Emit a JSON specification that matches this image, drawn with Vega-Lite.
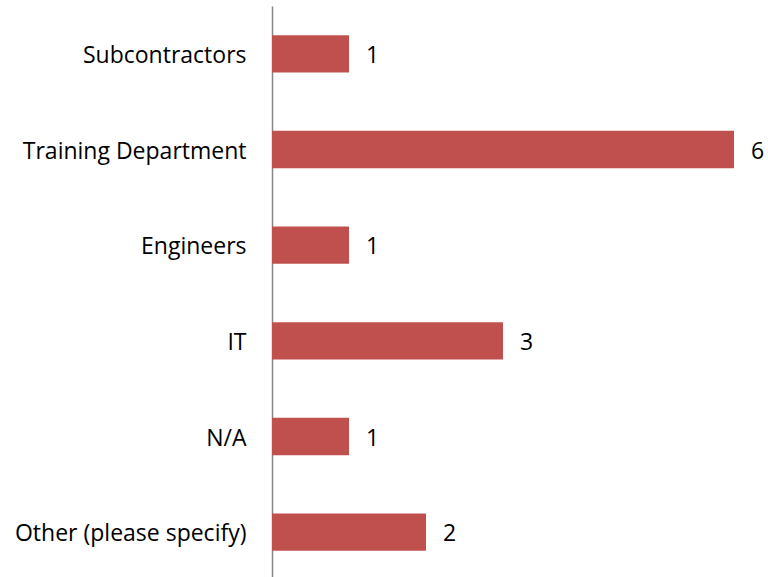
{
  "$schema": "https://vega.github.io/schema/vega-lite/v6.json",
  "autosize": "none",
  "padding": {"left": 272, "top": 6, "right": 0, "bottom": 0},
  "width": 496,
  "height": 574,
  "background": "white",
  "config": {"view": {"stroke": null}, "font": "Open Sans"},
  "data": {"values": [
    {"category": "Subcontractors", "count": 1},
    {"category": "Training Department", "count": 6},
    {"category": "Engineers", "count": 1},
    {"category": "IT", "count": 3},
    {"category": "N/A", "count": 1},
    {"category": "Other (please specify)", "count": 2}
  ]},
  "encoding": {
    "y": {"field": "category", "type": "nominal", "sort": null,
      "scale": {"paddingInner": 0.61, "paddingOuter": 0.305},
      "axis": {"title": null, "ticks": false, "domainColor": "#868686", "domainWidth": 1.5,
        "labelFont": "Open Sans", "labelFontSize": 23, "labelColor": "#000000", "labelPadding": 26, "labelLimit": 300, "labelOffset": 2}},
    "x": {"field": "count", "type": "quantitative",
      "scale": {"domain": [0, 6.4416], "nice": false},
      "axis": null}
  },
  "layer": [
    {"mark": {"type": "bar", "color": "#C0504D"}},
    {"mark": {"type": "text", "align": "left", "baseline": "middle", "dx": 17, "dy": 2, "font": "Open Sans", "fontSize": 23, "color": "#000000"},
     "encoding": {"text": {"field": "count", "type": "quantitative"}}}
  ]
}
